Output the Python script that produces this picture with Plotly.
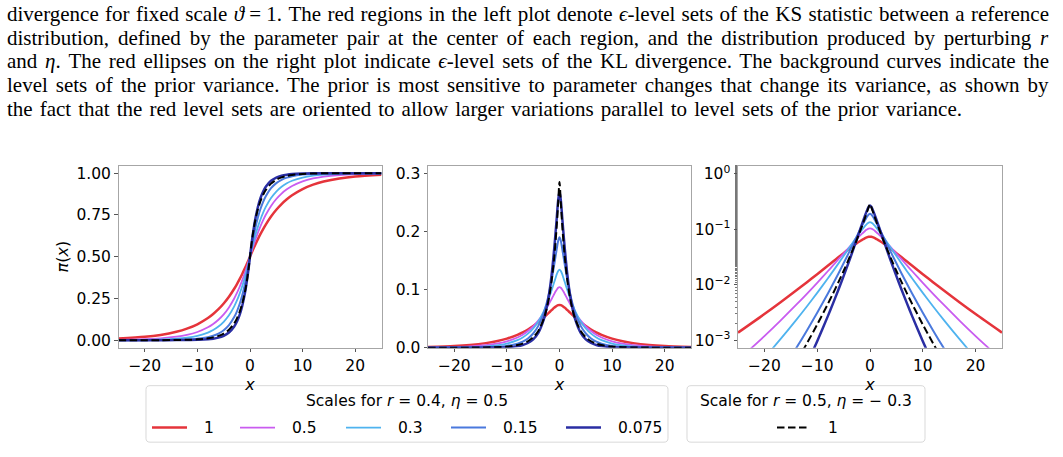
import plotly.graph_objects as go

# ---------------- data ----------------
X = [-25, -20, -17, -14, -12, -10, -8, -7, -6, -5, -4, -3, -2.5, -2, -1.5, -1, -0.75, -0.5, -0.25,
     0, 0.25, 0.5, 0.75, 1, 1.5, 2, 2.5, 3, 4, 5, 6, 7, 8, 10, 12, 14, 17, 20, 25]

SCALE_LABELS = ["1", "0.5", "0.3", "0.15", "0.075"]
REF_LABEL = "1"
LEGEND1_TITLE = "Scales for <i>r</i> = 0.4, <i>η</i> = 0.5"
LEGEND2_TITLE = "Scale for <i>r</i> = 0.5, <i>η</i> = − 0.3"

# CDF pi(x) (left panel)
CDF_1 = [0.00977, 0.02015, 0.03164, 0.05028, 0.06901, 0.09532, 0.13251, 0.15658, 0.18526, 0.21941,
         0.25995, 0.30781, 0.33475, 0.36381, 0.39498, 0.42828, 0.44569, 0.46351, 0.48168,
         0.5,
         0.51832, 0.53649, 0.55431, 0.57172, 0.60502, 0.63619, 0.66525, 0.69219, 0.74005, 0.78059,
         0.81474, 0.84342, 0.86749, 0.90468, 0.93099, 0.94972, 0.96836, 0.97985, 0.99023]
CDF_05 = [0.00238, 0.00616, 0.0112, 0.02076, 0.03178, 0.04917, 0.07705, 0.0969, 0.12225, 0.15472,
          0.19631, 0.24947, 0.28121, 0.3168, 0.35656, 0.40057, 0.42411, 0.44871, 0.47408,
          0.5,
          0.52592, 0.55129, 0.57589, 0.59943, 0.64344, 0.6832, 0.71879, 0.75053, 0.80369, 0.84528,
          0.87775, 0.9031, 0.92295, 0.95083, 0.96822, 0.97924, 0.9888, 0.99384, 0.99762]
CDF_03 = [0.00065, 0.00204, 0.00423, 0.00903, 0.01521, 0.02616, 0.04573, 0.06094, 0.08162, 0.10996,
          0.14883, 0.20236, 0.23624, 0.27576, 0.32162, 0.37445, 0.40348, 0.43431, 0.46669,
          0.5,
          0.53331, 0.56569, 0.59652, 0.62555, 0.67838, 0.72424, 0.76376, 0.79764, 0.85117, 0.89004,
          0.91838, 0.93906, 0.95427, 0.97384, 0.98479, 0.99097, 0.99577, 0.99796, 0.99935]
CDF_015 = [0.00008, 0.00034, 0.0008, 0.00214, 0.00426, 0.0087, 0.01829, 0.02688, 0.03986, 0.05967,
           0.09035, 0.13824, 0.17157, 0.21339, 0.26561, 0.33018, 0.36766, 0.40865, 0.45309,
           0.5,
           0.54691, 0.59135, 0.63234, 0.66982, 0.73439, 0.78661, 0.82843, 0.86176, 0.90965, 0.94033,
           0.96014, 0.97312, 0.98171, 0.9913, 0.99574, 0.99786, 0.9992, 0.99966, 0.99992]
CDF_0075 = [0.0, 0.00003, 0.0001, 0.00036, 0.0008, 0.00204, 0.00542, 0.00903, 0.01521, 0.02616,
            0.04573, 0.08162, 0.10996, 0.14883, 0.20236, 0.27576, 0.32162, 0.37445, 0.43431,
            0.5,
            0.56569, 0.62555, 0.67838, 0.72424, 0.79764, 0.85117, 0.89004, 0.91838, 0.95427, 0.97384,
            0.98479, 0.99097, 0.99458, 0.99796, 0.9992, 0.99964, 0.9999, 0.99997, 1.0]
CDF_REF = [0.00002, 0.00014, 0.00034, 0.00106, 0.00227, 0.00493, 0.01099, 0.0167, 0.02561, 0.03975,
           0.06286, 0.10118, 0.12944, 0.16676, 0.21638, 0.28341, 0.32544, 0.3747, 0.43253,
           0.5,
           0.56747, 0.6253, 0.67456, 0.71659, 0.78362, 0.83324, 0.87056, 0.89882, 0.93714, 0.96025,
           0.97439, 0.9833, 0.98901, 0.99507, 0.99773, 0.99894, 0.99966, 0.99986, 0.99998]

# density (middle and right panels)
PDF_1 = [0.001384, 0.002985, 0.004817, 0.007889, 0.01105, 0.01556, 0.02205, 0.02627, 0.03129, 0.03721,
         0.04409, 0.05185, 0.05603, 0.06027, 0.06451, 0.06889, 0.07052, 0.07206, 0.07315,
         0.07351,
         0.07315, 0.07206, 0.07052, 0.06889, 0.06451, 0.06027, 0.05603, 0.05185, 0.04409, 0.03721,
         0.03129, 0.02627, 0.02205, 0.01556, 0.01105, 0.007889, 0.004817, 0.002985, 0.001384]
PDF_05 = [0.000441, 0.001202, 0.00226, 0.004358, 0.006845, 0.0109, 0.01757, 0.02239, 0.02865, 0.03669,
          0.04698, 0.05986, 0.06732, 0.07537, 0.08378, 0.09225, 0.09665, 0.10019, 0.10293,
          0.10397,
          0.10293, 0.10019, 0.09665, 0.09225, 0.08378, 0.07537, 0.06732, 0.05986, 0.04698, 0.03669,
          0.02865, 0.02239, 0.01757, 0.0109, 0.006845, 0.004358, 0.00226, 0.001202, 0.000441]
PDF_03 = [0.000144, 0.000486, 0.001044, 0.002324, 0.004047, 0.007178, 0.01302, 0.01766, 0.02412, 0.03306,
          0.04547, 0.06257, 0.07322, 0.08531, 0.09869, 0.11279, 0.11979, 0.12693, 0.13199,
          0.13422,
          0.13199, 0.12693, 0.11979, 0.11279, 0.09869, 0.08531, 0.07322, 0.06257, 0.04547, 0.03306,
          0.02412, 0.01766, 0.01302, 0.007178, 0.004047, 0.002324, 0.001044, 0.000486, 0.000144]
PDF_015 = [0.0000203, 0.0000955, 0.000256, 0.000722, 0.001488, 0.003163, 0.006949, 0.01045, 0.0159, 0.02444,
           0.03797, 0.0595, 0.07462, 0.09341, 0.1163, 0.1429, 0.15702, 0.17115, 0.18397,
           0.18982,
           0.18397, 0.17115, 0.15702, 0.1429, 0.1163, 0.09341, 0.07462, 0.0595, 0.03797, 0.02444,
           0.0159, 0.01045, 0.006949, 0.003163, 0.001488, 0.000722, 0.000256, 0.0000955, 0.0000203]
PDF_0075 = [0.0000015, 0.000011, 0.0000382, 0.000144, 0.000366, 0.000971, 0.002714, 0.004649, 0.008093, 0.01436,
            0.02603, 0.04824, 0.06612, 0.09095, 0.12513, 0.17061, 0.19737, 0.22558, 0.25386,
            0.26843,
            0.25386, 0.22558, 0.19737, 0.17061, 0.12513, 0.09095, 0.06612, 0.04824, 0.02603, 0.01436,
            0.008093, 0.004649, 0.002714, 0.000971, 0.000366, 0.000144, 0.0000382, 0.000011, 0.0000015]
PDF_REF = [0.0000091, 0.0000475, 0.000135, 0.000404, 0.00087, 0.001933, 0.004512, 0.007027, 0.0111, 0.01778,
           0.02932, 0.04945, 0.06467, 0.08573, 0.11484, 0.15561, 0.182, 0.21303, 0.24965,
           0.28495,
           0.24965, 0.21303, 0.182, 0.15561, 0.11484, 0.08573, 0.06467, 0.04945, 0.02932, 0.01778,
           0.0111, 0.007027, 0.004512, 0.001933, 0.00087, 0.000404, 0.000135, 0.0000475, 0.0000091]

X_TICKS = [-20, -10, 0, 10, 20]
Y1_TICKS = [0, 0.25, 0.5, 0.75, 1.0]
Y1_TICKTEXT = ["0.00", "0.25", "0.50", "0.75", "1.00"]
Y2_TICKS = [0, 0.1, 0.2, 0.3]
Y2_TICKTEXT = ["0.0", "0.1", "0.2", "0.3"]
Y3_TICKS = [0.001, 0.01, 0.1, 1]
Y3_TICKTEXT = ["10<sup>−3</sup>", "10<sup>−2</sup>", "10<sup>−1</sup>", "10<sup>0</sup>"]

CAPTION_LINES = [
    "divergence for fixed scale <i>ϑ</i>\u2005=\u20051. The red regions in the left plot denote <i>ϵ</i>-level sets of the KS statistic between a reference",
    "distribution, defined by the parameter pair at the center of each region, and the distribution produced by perturbing <i>r</i>",
    "and <i>η</i>. The red ellipses on the right plot indicate <i>ϵ</i>-level sets of the KL divergence. The background curves indicate the",
    "level sets of the prior variance. The prior is most sensitive to parameter changes that change its variance, as shown by",
    "the fact that the red level sets are oriented to allow larger variations parallel to level sets of the prior variance.",
]

# ---------------- styling ----------------
COLORS = ["#e5343b", "#c95cf0", "#4fb3ef", "#4a79dd", "#2a2ea3"]
WIDTHS = [2.5, 1.8, 1.8, 2.0, 2.5]
REF_DASH = "7.5px,3.5px"
W, H = 1063, 457
FONT = "DejaVu Sans"
AX_COL = "#a6a6a6"
TICK_SIZE = 15.5
LEG_SIZE = 15.5

cdfs = [CDF_1, CDF_05, CDF_03, CDF_015, CDF_0075]
pdfs = [PDF_1, PDF_05, PDF_03, PDF_015, PDF_0075]

fig = go.Figure()
for panel in (1, 2, 3):
    xa = "x" if panel == 1 else "x%d" % panel
    ya = "y" if panel == 1 else "y%d" % panel
    series = cdfs if panel == 1 else pdfs
    ref = CDF_REF if panel == 1 else PDF_REF
    for i, ys in enumerate(series):
        fig.add_trace(go.Scatter(
            x=X, y=ys, mode="lines", name=SCALE_LABELS[i], xaxis=xa, yaxis=ya,
            line=dict(color=COLORS[i], width=WIDTHS[i], shape="spline", smoothing=0.8),
            showlegend=False, hoverinfo="skip"))
    fig.add_trace(go.Scatter(
        x=X, y=ref, mode="lines", name=REF_LABEL, xaxis=xa, yaxis=ya,
        line=dict(color="black", width=2, dash=REF_DASH, shape="spline", smoothing=0.8),
        showlegend=False, hoverinfo="skip"))


def px(xp):
    return xp / W


def py(yp):
    return 1 - yp / H


YDOM = [py(354), py(167)]
common_x = dict(range=[-25, 25], tickvals=X_TICKS, showgrid=False, zeroline=False,
                showline=True, mirror=True, linecolor=AX_COL, linewidth=1,
                ticks="outside", ticklen=3.5, tickcolor="#555555", tickwidth=1,
                tickfont=dict(family=FONT, size=TICK_SIZE, color="black"),
                title=dict(text="<i>x</i>", font=dict(family=FONT, size=16, color="black"), standoff=0))
common_y = dict(showgrid=False, zeroline=False, showline=True, mirror=True, linecolor=AX_COL,
                linewidth=1, ticks="outside", ticklen=3.5, tickcolor="#555555", tickwidth=1,
                tickfont=dict(family=FONT, size=TICK_SIZE, color="black"), domain=YDOM)

fig.update_layout(
    width=W, height=H, margin=dict(l=0, r=0, t=0, b=0),
    paper_bgcolor="white", plot_bgcolor="white", showlegend=False,
    xaxis=dict(domain=[px(118.5), px(381.5)], anchor="y", **common_x),
    xaxis2=dict(domain=[px(428), px(691)], anchor="y2", **common_x),
    xaxis3=dict(domain=[px(738), px(1002)], anchor="y3", **common_x),
    yaxis=dict(anchor="x", range=[-0.045, 1.045], tickvals=Y1_TICKS, ticktext=Y1_TICKTEXT,
               title=dict(text="<i>π</i>(<i>x</i>)", font=dict(family=FONT, size=16, color="black"),
                          standoff=3), **common_y),
    yaxis2=dict(anchor="x2", range=[0, 0.313], tickvals=Y2_TICKS, ticktext=Y2_TICKTEXT, **common_y),
    yaxis3=dict(anchor="x3", type="log", range=[-3.13, 0.145], tickvals=Y3_TICKS, ticktext=Y3_TICKTEXT,
                minor=dict(ticks="outside", ticklen=2, tickcolor="#777777", showgrid=False),
                **common_y),
)


# ---------------- legends (matplotlib-style boxes) ----------------
def rounded_box(x0, y0, x1, y1, r=4):
    pts = [
        "M %f,%f" % (px(x0 + r), py(y0)),
        "L %f,%f" % (px(x1 - r), py(y0)),
        "Q %f,%f %f,%f" % (px(x1), py(y0), px(x1), py(y0 + r)),
        "L %f,%f" % (px(x1), py(y1 - r)),
        "Q %f,%f %f,%f" % (px(x1), py(y1), px(x1 - r), py(y1)),
        "L %f,%f" % (px(x0 + r), py(y1)),
        "Q %f,%f %f,%f" % (px(x0), py(y1), px(x0), py(y1 - r)),
        "L %f,%f" % (px(x0), py(y0 + r)),
        "Q %f,%f %f,%f" % (px(x0), py(y0), px(x0 + r), py(y0)),
        "Z",
    ]
    return " ".join(pts)


LEG_BOX_COLOR = "#d9d9d9"
fig.add_shape(type="path", path=rounded_box(146, 393, 668, 451), xref="paper", yref="paper",
              line=dict(color=LEG_BOX_COLOR, width=1), fillcolor="white", layer="above")
fig.add_shape(type="path", path=rounded_box(687, 393, 925, 451), xref="paper", yref="paper",
              line=dict(color=LEG_BOX_COLOR, width=1), fillcolor="white", layer="above")

fig.add_annotation(text=LEGEND1_TITLE, x=px(407), y=py(409), xref="paper", yref="paper",
                   xanchor="center", yanchor="middle", showarrow=False,
                   font=dict(family=FONT, size=LEG_SIZE, color="black"))
fig.add_annotation(text=LEGEND2_TITLE, x=px(806), y=py(409), xref="paper", yref="paper",
                   xanchor="center", yanchor="middle", showarrow=False,
                   font=dict(family=FONT, size=LEG_SIZE, color="black"))

LEG_ROW_Y = 436
LEG_LINE_STARTS = [152, 240, 346, 451, 566]
for i, lab in enumerate(SCALE_LABELS):
    x0 = LEG_LINE_STARTS[i]
    fig.add_shape(type="line", x0=px(x0), x1=px(x0 + 35), y0=py(LEG_ROW_Y), y1=py(LEG_ROW_Y),
                  xref="paper", yref="paper", layer="above",
                  line=dict(color=COLORS[i], width=WIDTHS[i]))
    fig.add_annotation(text=lab, x=px(x0 + 50), y=py(LEG_ROW_Y), xref="paper", yref="paper",
                       xanchor="left", yanchor="middle", showarrow=False,
                       font=dict(family=FONT, size=LEG_SIZE, color="black"))
fig.add_shape(type="line", x0=px(777), x1=px(808), y0=py(LEG_ROW_Y), y1=py(LEG_ROW_Y),
              xref="paper", yref="paper", layer="above",
              line=dict(color="black", width=2, dash=REF_DASH))
fig.add_annotation(text=REF_LABEL, x=px(826), y=py(LEG_ROW_Y), xref="paper", yref="paper",
                   xanchor="left", yanchor="middle", showarrow=False,
                   font=dict(family=FONT, size=LEG_SIZE, color="black"))

# ---------------- caption text above the plots ----------------
BASELINES = [18, 42.5, 67, 91.5, 116]
n_before = len(fig.layout.annotations)
for i, line in enumerate(CAPTION_LINES):
    fig.add_annotation(text=line, x=px(5), y=py(BASELINES[i] - 7), xref="paper", yref="paper",
                       xanchor="left", yanchor="middle", align="left", showarrow=False,
                       font=dict(family="Liberation Serif", size=21, color="black"))

JUSTIFY = """
var gd = document.getElementById('{plot_id}');
var first = %d;
var rights = [1057, 1057, 1057, 1057, 970];
var groups = gd.querySelectorAll('g.annotation');
groups.forEach(function(g){
  var idx = parseInt(g.getAttribute('data-index')) - first;
  if (idx >= 0 && idx < rights.length) {
    var t = g.querySelector('text.annotation-text');
    if (!t) return;
    var r = t.getBoundingClientRect();
    var n = (t.textContent.match(/ /g) || []).length;
    if (n > 0) {
      var extra = (rights[idx] - r.left - r.width) / n;
      t.style.wordSpacing = extra + 'px';
    }
  }
});
""" % n_before

fig.write_html("out.html", post_script=JUSTIFY)
